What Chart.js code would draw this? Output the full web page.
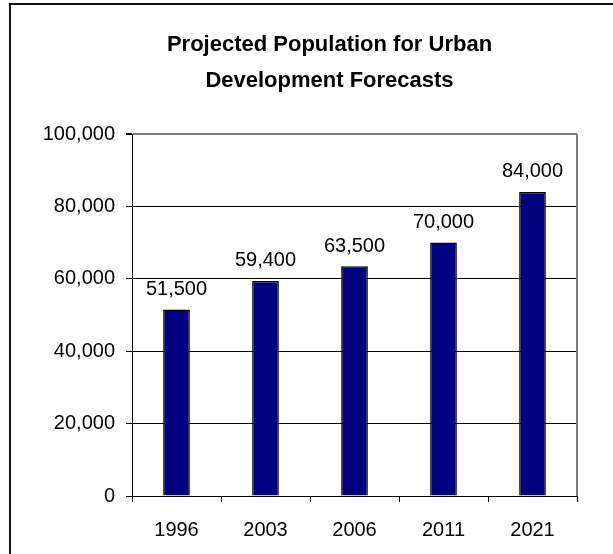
<!DOCTYPE html>
<html>
<head>
<meta charset="utf-8">
<script src="https://cdn.jsdelivr.net/npm/chart.js@4/dist/chart.umd.min.js"></script>
<style>
    html, body { margin: 0; padding: 0; background: #fff; overflow: hidden; }
    #wrap { width: 650px; height: 554px; }
</style>
</head>
<body>
<div id="wrap"><canvas id="popChart" width="650" height="554"></canvas></div>
<script>
// Data
const years = ['1996', '2003', '2006', '2011', '2021'];
const population = [51500, 59400, 63500, 70000, 84000];
const titleLines = ['Projected Population for Urban', 'Development Forecasts'];

const FONT = '"Liberation Sans", Arial, sans-serif';

function fmt(v) {
    return Number(v).toLocaleString('en-US');
}

// Outer frame of the chart object (runs off the right and bottom edge)
const framePlugin = {
    id: 'frame',
    afterDraw(chart) {
        const ctx = chart.ctx;
        ctx.save();
        ctx.strokeStyle = '#111';
        ctx.lineWidth = 2;
        ctx.strokeRect(10, 4, 800, 700);
        // grey right edge of the plot area
        const a = chart.chartArea;
        ctx.strokeStyle = '#808080';
        ctx.lineWidth = 2;
        ctx.beginPath();
        ctx.moveTo(a.right, a.top);
        ctx.lineTo(a.right, a.bottom);
        ctx.stroke();
        ctx.restore();
    }
};

// Value labels above each bar
const valueLabels = {
    id: 'valueLabels',
    afterDatasetsDraw(chart) {
        const ctx = chart.ctx;
        const meta = chart.getDatasetMeta(0);
        ctx.save();
        ctx.font = '20px ' + FONT;
        ctx.fillStyle = '#000';
        ctx.textAlign = 'center';
        ctx.textBaseline = 'middle';
        meta.data.forEach((bar, i) => {
            ctx.fillText(fmt(population[i]), bar.x, bar.y - 20);
        });
        ctx.restore();
    }
};

const ctx = document.getElementById('popChart').getContext('2d');
const popChart = new Chart(ctx, {
    type: 'bar',
    data: {
        labels: years,
        datasets: [{
            data: population,
            backgroundColor: '#000080',
            borderColor: '#000',
            borderWidth: 1.5,
            barPercentage: 0.3,
            categoryPercentage: 1.0
        }]
    },
    options: {
        responsive: false,
        animation: false,
        devicePixelRatio: 1,
        layout: { padding: { left: 9, right: 0, top: 0, bottom: 0 } },
        plugins: {
            legend: { display: false },
            tooltip: { enabled: false },
            title: {
                display: true,
                text: titleLines,
                color: '#000',
                font: { family: FONT, size: 22, weight: 'bold', lineHeight: 36 / 22 },
                padding: { top: 27, bottom: 35 }
            }
        },
        scales: {
            x: {
                afterFit(scale) { scale.height = 58; },
                grid: {
                    offset: true,
                    drawOnChartArea: false,
                    tickLength: 6,
                    tickColor: '#000'
                },
                border: { color: '#000', width: 1 },
                ticks: {
                    color: '#000',
                    font: { family: FONT, size: 20 },
                    padding: 16,
                    maxRotation: 0
                }
            },
            y: {
                min: 0,
                max: 100000,
                afterFit(scale) { scale.width = 123; },
                grid: {
                    color: c => (c.tick && c.tick.value === 100000 ? '#808080' : '#000'),
                    lineWidth: c => (c.tick && c.tick.value === 100000 ? 2 : 1),
                    tickLength: 6,
                    tickColor: '#000'
                },
                border: { color: '#000', width: 1 },
                ticks: {
                    stepSize: 20000,
                    color: '#000',
                    font: { family: FONT, size: 20 },
                    padding: 11,
                    callback: v => fmt(v)
                }
            },
            // empty right-hand axis just to reserve the space to the right of the plot
            y2: {
                position: 'right',
                afterFit(scale) { scale.width = 73; },
                grid: { display: false },
                border: { display: false },
                ticks: { display: false }
            }
        }
    },
    plugins: [framePlugin, valueLabels]
});
</script>
</body>
</html>
